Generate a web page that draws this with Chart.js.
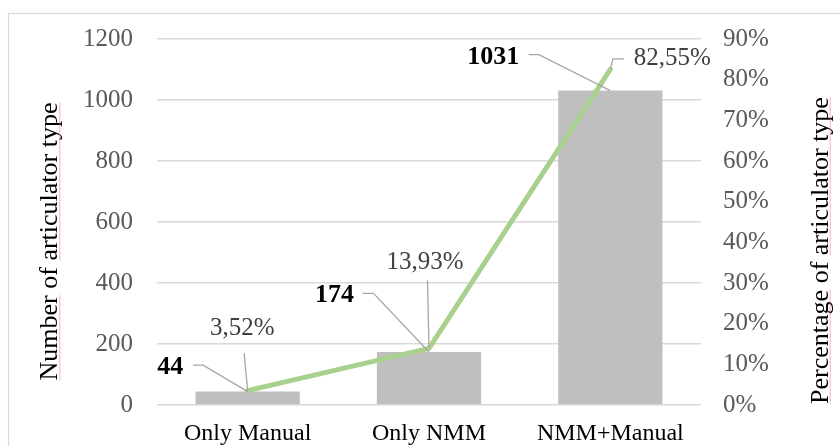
<!DOCTYPE html>
<html>
<head>
<meta charset="utf-8">
<script src="https://cdn.jsdelivr.net/npm/chart.js@4/dist/chart.umd.min.js"></script>
<style>
  html, body { margin: 0; padding: 0; background: #ffffff; }
  #wrap { width: 840px; height: 446px; }
</style>
</head>
<body>
<div id="wrap"><canvas id="articulatorChart" width="840" height="446"></canvas></div>
<script>
// ---- donnees ----
const categories = ["Only Manual", "Only NMM", "NMM+Manual"];
const counts = [44, 174, 1031];
const percents = [3.52, 13.93, 82.55];
const countTicks = [0, 200, 400, 600, 800, 1000, 1200];
const percentTicks = [0, 10, 20, 30, 40, 50, 60, 70, 80, 90];

const SERIF = "'Liberation Serif', 'Times New Roman', serif";

// position des etiquettes (decalage par rapport au point, style Excel)
const barLabelOffset = [[-77.5, -24.5], [-94.5, -57], [-117, -33]];
const barLeader = [
    [[-54.5, -26.5], [-44.5, -26.5]],
    [[-66.5, -58.6], [-55.5, -58.6]],
    [[-81.5, -36], [-71.5, -36]]
];
const lineLabelOffset = [[-5.5, -62], [-4, -85.5], [62, -10.5]];
const lineLeader = [
    [[-3.5, -37.6]],
    [[-1.5, -68]],
    [[13.5, -10.5], [2.5, -10.5]]
];

function fmtPercent(v) {
    return v.toFixed(2).replace(".", ",") + "%";
}

// cadre du graphique + titres des axes
const framePlugin = {
    id: "frame",
    beforeDraw(chart) {
        const ctx = chart.ctx;
        ctx.save();
        ctx.strokeStyle = "#d9d9d9";
        ctx.lineWidth = 1.2;
        ctx.strokeRect(8.5, 13.5, 900, 500);
        ctx.restore();
    },
    afterDraw(chart) {
        const ctx = chart.ctx;
        const titles = [
            { text: "Number of articulator type", x: 57.3, y: 241.5, under: ["Number", "articulator type"] },
            { text: "Percentage of articulator type", x: 827.7, y: 250.5, under: ["Percentage", "articulator type"] }
        ];
        ctx.save();
        ctx.font = "26px " + SERIF;
        titles.forEach(t => {
            ctx.save();
            ctx.translate(t.x, t.y);
            ctx.rotate(-Math.PI / 2);
            const w = ctx.measureText(t.text).width;
            ctx.fillStyle = "#000000";
            ctx.textAlign = "left";
            ctx.textBaseline = "alphabetic";
            ctx.fillText(t.text, -w / 2, 0);
            // soulignement du correcteur
            ctx.strokeStyle = "rgba(230,120,120,0.55)";
            ctx.lineWidth = 1;
            t.under.forEach(word => {
                const start = t.text.indexOf(word);
                const x0 = -w / 2 + ctx.measureText(t.text.slice(0, start)).width;
                const ww = ctx.measureText(word).width;
                ctx.beginPath();
                ctx.moveTo(x0, 2.5);
                ctx.lineTo(x0 + ww, 2.5);
                ctx.stroke();
            });
            ctx.restore();
        });
        ctx.restore();
    }
};

// etiquettes de donnees avec traits de rappel
const labelPlugin = {
    id: "dataLabels",
    afterDatasetsDraw(chart) {
        const ctx = chart.ctx;
        const barMeta = chart.getDatasetMeta(0);
        const lineMeta = chart.getDatasetMeta(1);
        ctx.save();
        ctx.strokeStyle = "#a6a6a6";
        ctx.lineWidth = 1.3;

        function leader(px, py, pts) {
            ctx.beginPath();
            ctx.moveTo(px + pts[0][0], py + pts[0][1]);
            for (let k = 1; k < pts.length; k++) ctx.lineTo(px + pts[k][0], py + pts[k][1]);
            ctx.lineTo(px, py);
            ctx.stroke();
        }

        barMeta.data.forEach((el, i) => leader(el.x, el.y, barLeader[i]));
        lineMeta.data.forEach((el, i) => leader(el.x, el.y, lineLeader[i]));

        ctx.textAlign = "center";
        ctx.textBaseline = "middle";
        ctx.font = "bold 26px " + SERIF;
        ctx.fillStyle = "#000000";
        barMeta.data.forEach((el, i) => {
            ctx.fillText(String(counts[i]), el.x + barLabelOffset[i][0], el.y + barLabelOffset[i][1]);
        });
        ctx.font = "25px " + SERIF;
        ctx.fillStyle = "#404040";
        lineMeta.data.forEach((el, i) => {
            ctx.fillText(fmtPercent(percents[i]), el.x + lineLabelOffset[i][0], el.y + lineLabelOffset[i][1]);
        });
        ctx.restore();
    }
};

new Chart(document.getElementById("articulatorChart"), {
    type: "bar",
    data: {
        labels: categories,
        datasets: [
            {
                type: "bar",
                label: "Number",
                data: counts,
                yAxisID: "y",
                backgroundColor: "#bfbfbf",
                categoryPercentage: 1,
                barPercentage: 0.575,
                order: 1
            },
            {
                type: "line",
                label: "Percentage",
                data: percents,
                yAxisID: "y1",
                borderColor: "#a9d18e",
                borderWidth: 5,
                borderCapStyle: "round",
                pointRadius: 0,
                tension: 0,
                order: 0
            }
        ]
    },
    options: {
        responsive: false,
        animation: false,
        layout: { padding: { top: 37, left: 0, right: 0, bottom: 0 } },
        plugins: {
            legend: { display: false },
            tooltip: { enabled: false }
        },
        scales: {
            x: {
                grid: { display: false },
                border: { display: false },
                ticks: {
                    color: "#000000",
                    font: { family: SERIF, size: 24 },
                    padding: 6,
                    maxRotation: 0
                },
                afterFit(scale) { scale.height = 41; }
            },
            y: {
                position: "left",
                min: 0,
                max: countTicks[countTicks.length - 1],
                afterBuildTicks(scale) { scale.ticks = countTicks.map(v => ({ value: v })); },
                grid: { color: "#d9d9d9", lineWidth: 1.5, drawTicks: false },
                border: { display: false },
                ticks: {
                    color: "#595959",
                    font: { family: SERIF, size: 25 },
                    padding: 24,
                    callback: v => String(v)
                },
                afterFit(scale) { scale.width = 157; }
            },
            y1: {
                position: "right",
                min: 0,
                max: percentTicks[percentTicks.length - 1],
                afterBuildTicks(scale) { scale.ticks = percentTicks.map(v => ({ value: v })); },
                grid: { display: false, drawTicks: false },
                border: { display: false },
                ticks: {
                    color: "#595959",
                    font: { family: SERIF, size: 25 },
                    padding: 22,
                    callback: v => v + "%"
                },
                afterFit(scale) { scale.width = 139; }
            }
        }
    },
    plugins: [framePlugin, labelPlugin]
});
</script>
</body>
</html>
